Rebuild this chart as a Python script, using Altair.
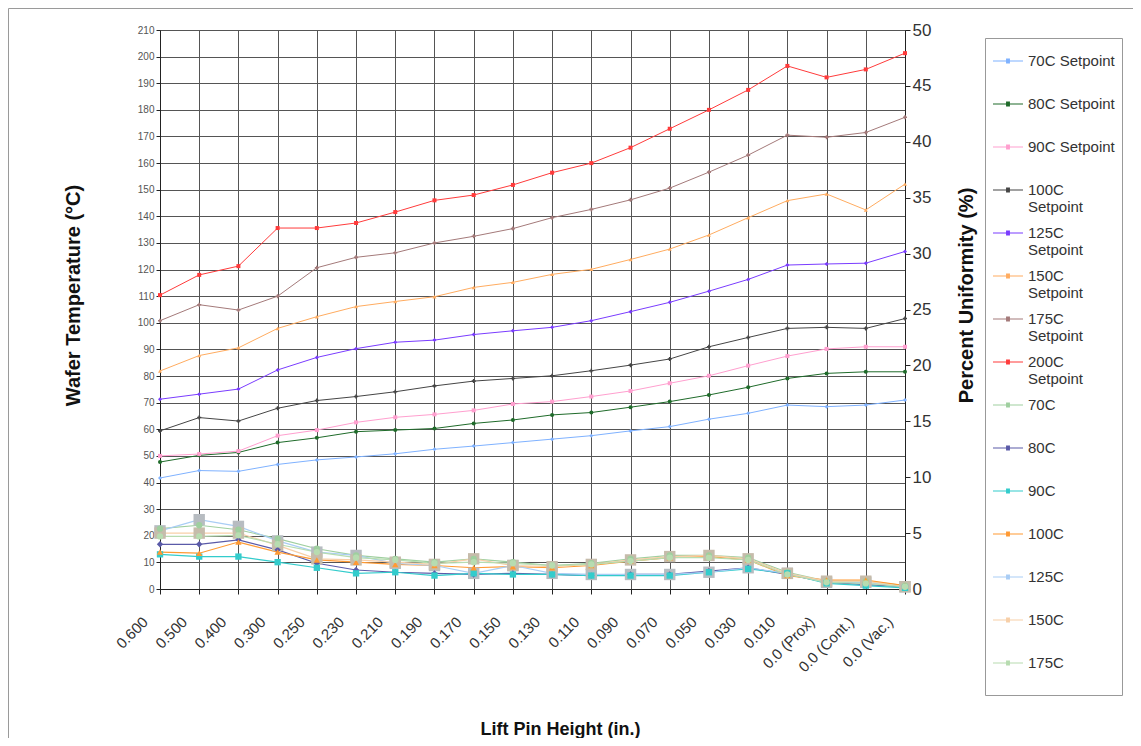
import altair as alt
import pandas as pd

heights = ["0.600", "0.500", "0.400", "0.300", "0.250", "0.230", "0.210", "0.190",
           "0.170", "0.150", "0.130", "0.110", "0.090", "0.070", "0.050", "0.030",
           "0.010", "0.0 (Prox)", "0.0 (Cont.)", "0.0 (Vac.)"]

# Wafer temperature (°C) per setpoint
sp_names = ["70C Setpoint", "80C Setpoint", "90C Setpoint", "100C Setpoint",
            "125C Setpoint", "150C Setpoint", "175C Setpoint", "200C Setpoint"]
sp_70 = [41.7, 44.5, 44.2, 46.8, 48.5, 49.6, 50.8, 52.5, 53.7, 55.0, 56.3, 57.6, 59.4, 61.0, 63.8, 66.0, 69.1, 68.5, 69.1, 71.0]
sp_80 = [47.7, 50.2, 51.3, 55.0, 56.8, 59.1, 59.7, 60.3, 62.2, 63.5, 65.4, 66.3, 68.3, 70.4, 72.9, 75.8, 79.1, 81.0, 81.6, 81.6]
sp_90 = [50.0, 50.7, 51.8, 57.6, 59.7, 62.6, 64.5, 65.6, 67.1, 69.5, 70.4, 72.3, 74.4, 77.3, 80.1, 83.9, 87.5, 90.2, 91.0, 91.0]
sp_100 = [59.4, 64.4, 63.1, 67.9, 70.8, 72.3, 74.1, 76.3, 78.1, 79.1, 80.1, 82.0, 84.1, 86.4, 91.0, 94.5, 97.9, 98.3, 97.9, 101.6]
sp_125 = [71.3, 73.2, 75.1, 82.3, 87.0, 90.3, 92.7, 93.5, 95.6, 97.0, 98.3, 100.8, 104.2, 107.7, 111.9, 116.3, 121.7, 122.1, 122.4, 126.8]
sp_150 = [81.9, 87.7, 90.6, 97.9, 102.3, 106.1, 108.0, 109.8, 113.3, 115.2, 118.2, 120.1, 123.8, 127.7, 133.0, 139.5, 145.9, 148.4, 142.4, 152.1]
sp_175 = [100.8, 106.8, 104.8, 110.0, 120.7, 124.6, 126.3, 130.0, 132.5, 135.4, 139.5, 142.6, 146.2, 150.6, 156.6, 163.0, 170.5, 169.7, 171.5, 177.2]
sp_200 = [110.4, 118.0, 121.3, 135.6, 135.6, 137.5, 141.6, 146.0, 148.0, 151.8, 156.4, 160.0, 165.8, 172.9, 180.0, 187.5, 196.5, 192.2, 195.2, 201.3]

# Percent uniformity (%)
un_names = ["70C", "80C", "90C", "100C", "125C", "150C", "175C"]
un_70 = [5.4, 5.7, 5.3, 4.5, 3.6, 3.0, 2.7, 2.4, 2.7, 2.4, 2.1, 2.3, 2.7, 3.0, 3.0, 2.8, 1.5, 0.7, 0.7, 0.3]
un_80 = [4.0, 4.0, 4.4, 3.5, 2.3, 1.7, 1.5, 1.4, 1.3, 1.4, 1.3, 1.2, 1.3, 1.3, 1.6, 1.9, 1.3, 0.6, 0.4, 0.2]
un_90 = [3.1, 2.9, 2.9, 2.4, 1.9, 1.4, 1.5, 1.2, 1.4, 1.3, 1.3, 1.2, 1.2, 1.2, 1.5, 1.8, 1.4, 0.5, 0.3, 0.1]
un_100 = [3.3, 3.2, 4.2, 3.3, 2.6, 2.4, 2.2, 2.1, 1.9, 2.0, 1.9, 2.1, 2.5, 2.8, 2.9, 2.6, 1.2, 0.8, 0.8, 0.3]
un_125 = [5.2, 6.2, 5.6, 4.3, 3.3, 3.0, 2.3, 2.1, 1.4, 2.1, 1.4, 1.3, 1.3, 1.3, 1.5, 1.9, 1.4, 0.6, 0.6, 0.2]
un_150 = [5.0, 5.0, 5.0, 3.9, 2.7, 2.6, 2.4, 2.2, 2.7, 2.1, 2.0, 2.2, 2.6, 2.9, 3.0, 2.7, 1.4, 0.7, 0.7, 0.2]
un_175 = [4.7, 4.7, 4.8, 4.0, 3.3, 2.8, 2.6, 2.3, 2.4, 2.3, 2.1, 2.2, 2.5, 2.8, 2.8, 2.6, 1.3, 0.6, 0.5, 0.2]

sp_series = [sp_70, sp_80, sp_90, sp_100, sp_125, sp_150, sp_175, sp_200]
un_series = [un_70, un_80, un_90, un_100, un_125, un_150, un_175]

all_names = sp_names + un_names
line_colors = ["#7fb2ff", "#1f6b2a", "#ff9fcf", "#454545", "#7a3cff", "#ffac60", "#a47a7a", "#ff3b3b",
               "#9fcf9f", "#5a5aa8", "#33cccc", "#ff9a33", "#a9cdf5", "#f7cfa8", "#b7dcb0"]
marker_fills = ["#7fb2ff", "#1f6b2a", "#ff9fcf", "#454545", "#7a3cff", "#ffac60", "#a47a7a", "#ff3b3b",
                "#9fcf9f", "#5a5aa8", "#33cccc", "#ff9a33", "#b7bcc1", "#c6bcab", "#b7dcb0"]
shapes = ["diamond", "circle", "square", "cross", "diamond", "triangle-up", "cross", "square",
          "circle", "diamond", "square", "triangle-up", "square", "square", "circle"]
big_markers = ["125C", "150C"]

sp_df = pd.DataFrame([
    {"height": h, "series": n, "mk": n, "temp": v}
    for n, vals in zip(sp_names, sp_series) for h, v in zip(heights, vals)
])
un_df = pd.DataFrame([
    {"height": h, "series": n, "mk": n, "pct": v}
    for n, vals in zip(un_names, un_series) for h, v in zip(heights, vals)
])

FONT = "Liberation Sans"
GRID = "#555555"
LEGEND_PATH = ("M-1,0H1M-0.13,-0.13H0.13M-0.13,-0.07H0.13M-0.13,0H0.13"
               "M-0.13,0.07H0.13M-0.13,0.13H0.13")

color_scale = alt.Scale(domain=all_names, range=line_colors)
# marker scales use a reversed domain so that they stay out of the line legend
fill_scale = alt.Scale(domain=all_names[::-1], range=marker_fills[::-1])
shape_scale = alt.Scale(domain=all_names[::-1], range=shapes[::-1])

x_enc = alt.X("height:N", sort=heights, scale=alt.Scale(type="point", padding=0),
              axis=alt.Axis(title="Lift Pin Height (in.)", labelAngle=-45, labelFontSize=15,
                            labelColor="#333", labelFont=FONT, titleFont=FONT, titleFontSize=18,
                            titleFontWeight="bold", titleColor="#111", grid=True, gridColor=GRID,
                            gridWidth=1, domainColor="#222", tickColor="#222", tickSize=5,
                            labelPadding=20, labelOffset=-20, titleX=400, titleY=140,
                            titleBaseline="middle"))

legend = alt.Legend(
    title=None, orient="none", legendX=825, legendY=8, direction="vertical",
    symbolType=LEGEND_PATH, symbolSize=900, symbolStrokeWidth=1.2,
    labelFont=FONT, labelFontSize=15, labelColor="#333",
    labelLimit=300, rowPadding=2, padding=7, strokeColor="#999", fillColor="white",
    labelExpr="length(datum.label) > 12 ? split(datum.label, ' ') : [datum.label, '']",
)

left_y = alt.Y("temp:Q", scale=alt.Scale(domain=[0, 210], nice=False),
               axis=alt.Axis(orient="left", title="Wafer Temperature (°C)", values=list(range(0, 211, 10)),
                             labelFontSize=10, labelColor="#555", labelFont=FONT, titleFont=FONT,
                             titleFontSize=20, titleFontWeight="bold", titleColor="#111",
                             grid=True, gridColor=GRID, gridWidth=1, domainColor="#222",
                             tickColor="#222", tickSize=4, titleX=-87, titleY=265,
                             titleBaseline="middle", titleAngle=270))

right_y = alt.Y("pct:Q", scale=alt.Scale(domain=[0, 50], nice=False),
                axis=alt.Axis(orient="right", title="Percent Uniformity (%)", values=list(range(0, 51, 5)),
                              labelFontSize=17, labelColor="#333", labelFont=FONT, titleFont=FONT,
                              titleFontSize=20, titleFontWeight="bold", titleColor="#111",
                              grid=False, domainColor="#222", tickColor="#222", tickSize=5,
                              titleX=61, titleY=265, titleBaseline="middle", titleAngle=270))

sp_line = alt.Chart(sp_df).mark_line(strokeWidth=1).encode(
    x=x_enc, y=left_y,
    color=alt.Color("series:N", scale=color_scale, sort=all_names, legend=legend),
)
sp_pts = alt.Chart(sp_df).mark_point(filled=True, opacity=1, size=16).encode(
    x=x_enc, y=left_y,
    fill=alt.Fill("mk:N", scale=fill_scale, legend=None),
    shape=alt.Shape("mk:N", scale=shape_scale, legend=None),
)
un_line = alt.Chart(un_df).mark_line(strokeWidth=1.2).encode(
    x=x_enc, y=right_y,
    color=alt.Color("series:N", scale=color_scale, sort=all_names, legend=legend),
)
un_pts_small = alt.Chart(un_df).mark_point(filled=True, opacity=1, size=40).encode(
    x=x_enc, y=right_y,
    fill=alt.Fill("mk:N", scale=fill_scale, legend=None),
    shape=alt.Shape("mk:N", scale=shape_scale, legend=None),
).transform_filter(~alt.FieldOneOfPredicate(field="mk", oneOf=big_markers))
un_pts_big = alt.Chart(un_df).mark_point(filled=True, opacity=1, size=130).encode(
    x=x_enc, y=right_y,
    fill=alt.Fill("mk:N", scale=fill_scale, legend=None),
    shape=alt.Shape("mk:N", scale=shape_scale, legend=None),
).transform_filter(alt.FieldOneOfPredicate(field="mk", oneOf=big_markers))

frame = alt.Chart(pd.DataFrame({"a": [0]})).mark_rect(fillOpacity=0, stroke="#9a9a9a", strokeWidth=1).encode(
    x=alt.value(-151.5), x2=alt.value(990), y=alt.value(-21.5), y2=alt.value(760)
)

left = alt.layer(sp_line, sp_pts)
right = alt.layer(un_line, un_pts_big, un_pts_small)

chart = alt.layer(frame, left, right).resolve_scale(y="independent").properties(
    width=745, height=559,
    padding={"left": 152, "top": 22, "right": 228, "bottom": 149},
    autosize=alt.AutoSizeParams(type="none"),
).configure_view(stroke=GRID, strokeWidth=1).configure(background="white")

chart.save("out.html", embed_options={"renderer": "svg", "actions": False})
